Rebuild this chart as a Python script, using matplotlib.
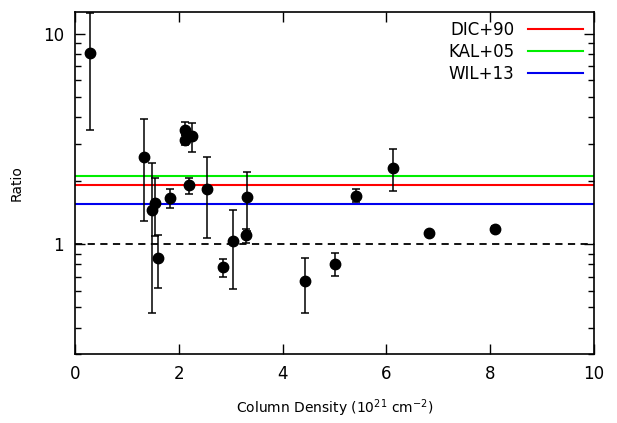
import numpy as np
import matplotlib
matplotlib.use('Agg')
import matplotlib.pyplot as plt
from matplotlib.ticker import LogLocator, FixedLocator, NullFormatter

# column density (1e21 cm^-2) and ratio with asymmetric error limits
col_density = [0.29, 1.32, 1.48, 1.54, 1.59, 1.83, 2.11, 2.11, 2.25, 2.20, 2.55,
               2.86, 3.04, 3.31, 3.29, 4.43, 5.00, 5.41, 6.12, 6.83, 8.09]
ratio = [8.1, 2.6, 1.45, 1.57, 0.855, 1.65, 3.49, 3.13, 3.28, 1.92, 1.83,
         0.774, 1.03, 1.68, 1.10, 0.664, 0.806, 1.69, 2.31, 1.13, 1.18]
ratio_hi = [12.5, 3.92, 2.42, 2.07, 1.10, 1.82, 3.82, 3.30, 3.78, 2.07, 2.59,
            0.848, 1.45, 2.19, 1.175, 0.86, 0.909, 1.82, 2.83, 1.16, 1.22]
ratio_lo = [3.49, 1.287, 0.468, 1.09, 0.615, 1.48, 3.30, 2.96, 2.75, 1.73, 1.07,
            0.696, 0.613, 1.15, 1.01, 0.471, 0.704, 1.585, 1.78, 1.10, 1.14]

ref_names = ['DIC+90', 'KAL+05', 'WIL+13']
ref_values = [1.91, 2.11, 1.55]
ref_colors = ['#ff0000', '#00ee00', '#0000ee']

x = np.array(col_density)
y = np.array(ratio)
yerr = np.array([y - np.array(ratio_lo), np.array(ratio_hi) - y])

fig = plt.figure(figsize=(6.17, 4.23), dpi=100)
ax = fig.add_axes([75 / 617, 1 - 354 / 423, (594 - 75) / 617, (354 - 12) / 423])

for name, val, c in zip(ref_names, ref_values, ref_colors):
    ax.axhline(val, color=c, lw=1.5, label=name, zorder=2)
ax.axhline(1.0, color='black', lw=1.3, ls=(0, (4, 3)), zorder=2)

ax.errorbar(x, y, yerr=yerr, fmt='o', color='black', ms=7.5, capsize=3,
            elinewidth=1.1, capthick=1.1, zorder=3)

ax.set_yscale('log')
ax.set_xlim(0, 10)
ax.set_ylim(0.3, 12.7)
ax.xaxis.set_major_locator(FixedLocator([0, 2, 4, 6, 8, 10]))
ax.yaxis.set_major_locator(FixedLocator([1, 10]))
ax.yaxis.set_major_formatter(matplotlib.ticker.FuncFormatter(lambda v, p: f'{v:g}'))
ax.yaxis.set_minor_locator(LogLocator(base=10, subs=np.arange(2, 10)))
ax.yaxis.set_minor_formatter(NullFormatter())

ax.tick_params(which='both', direction='in', top=True, right=True, labelsize=12, pad=8)
ax.tick_params(which='major', length=7, width=1)
ax.tick_params(which='minor', length=4, width=1)
for s in ax.spines.values():
    s.set_linewidth(1.2)

ax.set_xlabel('Column Density (10$^{21}$ cm$^{-2}$)', fontsize=10, labelpad=10)
ax.set_ylabel('Ratio', fontsize=10, labelpad=14)

ax.legend(loc='upper right', bbox_to_anchor=(583 / 617, 1 - 21 / 423),
          bbox_transform=fig.transFigure, frameon=False, markerfirst=False,
          fontsize=12, handlelength=3.3, handletextpad=0.8, labelspacing=0.25,
          borderpad=0, borderaxespad=0)

fig.savefig('out.png', dpi=100)
